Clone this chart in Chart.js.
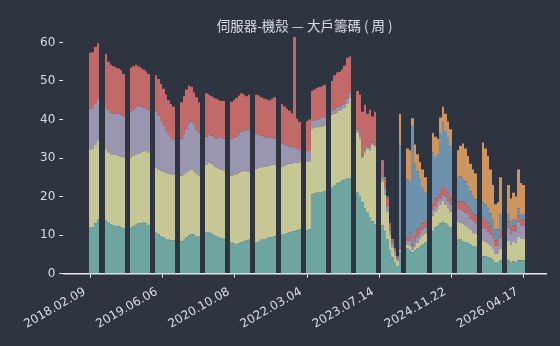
<!DOCTYPE html>
<html>
<head>
<meta charset="utf-8">
<script src="https://cdn.jsdelivr.net/npm/chart.js@4/dist/chart.umd.min.js"></script>
<style>
  html, body { margin: 0; padding: 0; background: #2e3440; }
  canvas { display: block; }
</style>
</head>
<body>
<canvas id="chart" width="560" height="346"></canvas>
<script>
// tick labels (evenly spread over the weekly index)
const tickLabels = ["2018.02.09", "2019.06.06", "2020.10.08", "2022.03.04", "2023.07.14", "2024.11.22", "2026.04.17"];

// one value per sampled week, null = weeks without data
const teal = [
  11.9, 12.0, 13.0, 14.2, null, null,
  13.8, 13.2, 12.8, 12.6, 12.4, 12.3, 12.0, 11.7, null, null,
  11.8, 12.3, 12.7, 13.0, 13.1, 13.2, 13.0, 12.6, null, null,
  10.6, 10.2, 9.8, 9.4, 9.0, 8.8, 8.7, 8.6, null, null,
  8.4, 8.8, 9.4, 9.9, 10.2, 10.2, 9.8, 9.6, null, null,
  10.6, 10.8, 10.4, 10.0, 9.8, 9.5, 9.2, 8.9, null, null,
  8.0, 7.8, 7.7, 7.9, 8.1, 8.4, 8.6, 8.8, null, null,
  8.2, 8.5, 8.8, 9.0, 9.2, 9.4, 9.5, 9.7, null, null,
  10.1, 10.3, 10.5, 10.7, 10.9, 11.0, 11.2, 11.4, null, null,
  11.3, 11.5, 20.6, 20.8, 21.0, 21.0, 21.2, 21.3, null, null,
  22.5, 23.0, 23.4, 23.8, 24.2, 24.4, 24.6, 24.8, null, null,
  21.0, 20.0, 18.5, 17.0, 16.0, 14.5, 13.6, 12.8, null, null,
  12.5, 11.0, 9.0, 6.0, 4.2, 3.0, 2.0, 5.5, null, null,
  6.5, 6.0, 5.5, 6.0, 6.5, 7.0, 7.5, 8.0, null, null,
  11.0, 12.0, 12.5, 13.0, 13.5, 13.0, 12.5, 12.0, null, null,
  9.0, 8.8, 8.5, 8.2, 8.0, 7.5, 7.2, 7.0, null, null,
  4.5, 4.5, 4.2, 4.0, 3.6, 3.0, 3.0, 3.5, null, null,
  3.5, 3.0, 3.2, 3.0, 3.5, 3.5, 3.5
];
const yellow = [
  20.4, 20.5, 20.5, 20.4, null, null,
  18.7, 18.3, 18.2, 18.2, 18.4, 18.3, 18.4, 18.5, null, null,
  18.4, 18.3, 18.3, 18.2, 18.2, 18.4, 18.8, 18.9, null, null,
  16.8, 16.8, 16.9, 17.1, 17.2, 17.2, 17.1, 17.1, null, null,
  17.0, 17.0, 16.9, 16.9, 16.8, 16.4, 16.2, 15.9, null, null,
  17.6, 18.0, 18.2, 18.0, 17.8, 17.7, 17.8, 17.9, null, null,
  17.5, 17.8, 18.1, 18.3, 18.4, 18.4, 18.0, 17.6, null, null,
  19.0, 18.9, 18.8, 18.8, 18.6, 18.6, 18.7, 18.6, null, null,
  17.7, 17.7, 17.8, 17.8, 17.7, 17.7, 17.6, 17.5, null, null,
  17.7, 17.7, 17.0, 17.0, 17.0, 17.2, 17.0, 17.1, null, null,
  18.7, 18.5, 18.4, 18.4, 18.4, 18.6, 19.4, 20.8, null, null,
  15.5, 15.0, 11.5, 14.5, 16.5, 17.5, 19.9, 20.2, null, null,
  11.5, 9.5, 7.0, 4.0, 2.6, 1.8, 1.3, 0.6, null, null,
  1.0, 1.2, 0.8, 1.0, 1.5, 2.0, 2.5, 2.5, null, null,
  4.0, 4.0, 4.5, 5.0, 5.5, 5.0, 4.5, 4.0, null, null,
  4.5, 4.5, 4.5, 4.2, 4.0, 3.8, 3.5, 3.3, null, null,
  4.0, 3.8, 3.5, 3.2, 2.8, 2.2, 2.2, 3.0, null, null,
  5.0, 4.5, 5.0, 5.0, 6.0, 5.5, 5.5
];
const purple = [
  10.5, 10.5, 10.5, 10.9, null, null,
  10.5, 10.7, 10.8, 10.7, 10.7, 11.0, 10.8, 10.8, null, null,
  11.8, 12.0, 12.2, 12.4, 12.0, 11.4, 11.0, 11.1, null, null,
  14.6, 14.0, 13.1, 12.0, 10.8, 10.0, 9.4, 9.1, null, null,
  9.6, 10.4, 11.3, 12.2, 12.4, 12.0, 11.4, 11.1, null, null,
  7.4, 7.2, 7.2, 7.2, 7.4, 8.0, 8.4, 8.2, null, null,
  9.5, 9.6, 9.8, 10.0, 10.3, 10.2, 10.6, 11.0, null, null,
  9.0, 8.6, 8.2, 7.8, 7.6, 7.3, 7.0, 6.8, null, null,
  6.0, 5.6, 5.0, 4.5, 4.2, 3.9, 3.6, 3.2, null, null,
  2.6, 2.6, 2.0, 2.0, 2.0, 2.0, 2.2, 2.2, null, null,
  1.0, 1.1, 1.2, 1.2, 1.2, 1.2, 1.4, 1.4, null, null,
  1.0, 0.8, 0.6, 0.5, 0.5, 0.6, 0.5, 0.5, null, null,
  1.0, 1.5, 1.5, 1.2, 1.0, 0.8, 0.6, 0.4, null, null,
  1.0, 1.5, 0.8, 1.2, 1.5, 1.5, 1.5, 1.5, null, null,
  1.5, 1.5, 2.0, 1.5, 1.5, 2.0, 2.0, 2.0, null, null,
  3.0, 3.2, 3.4, 3.4, 3.2, 3.0, 3.0, 2.8, null, null,
  3.5, 3.3, 3.2, 3.0, 2.6, 2.0, 2.0, 2.8, null, null,
  3.5, 3.0, 3.0, 3.0, 4.0, 3.5, 3.5
];
const red = [
  14.5, 14.5, 14.8, 14.3, null, null,
  14.0, 12.8, 12.4, 12.3, 12.0, 11.6, 11.6, 10.8, null, null,
  11.5, 11.2, 11.0, 10.2, 10.1, 10.0, 9.7, 9.2, null, null,
  9.5, 9.5, 9.4, 9.5, 9.5, 9.0, 8.8, 8.5, null, null,
  9.5, 9.8, 10.2, 9.8, 9.1, 8.4, 8.4, 7.9, null, null,
  11.2, 10.4, 10.2, 10.4, 10.4, 9.8, 9.4, 9.8, null, null,
  9.6, 9.8, 10.0, 10.0, 10.0, 9.5, 8.8, 9.0, null, null,
  10.2, 10.2, 10.0, 9.8, 9.8, 9.7, 10.2, 10.7, null, null,
  10.2, 9.8, 9.5, 9.3, 8.8, 28.8, 7.8, 7.3, null, null,
  8.0, 8.2, 7.8, 8.0, 8.2, 8.2, 8.2, 8.4, null, null,
  7.8, 8.9, 9.2, 9.0, 9.2, 9.8, 10.6, 9.4, null, null,
  9.9, 10.7, 11.4, 11.8, 8.5, 9.9, 6.8, 8.5, null, null,
  4.3, 2.5, 2.0, 1.3, 0.8, 0.6, 0.4, 0.2, null, null,
  0.8, 2.0, 0.5, 1.5, 2.0, 1.5, 1.5, 1.5, null, null,
  1.5, 2.0, 1.5, 2.0, 2.5, 2.0, 2.0, 1.5, null, null,
  2.0, 2.2, 2.4, 2.4, 2.2, 2.0, 2.0, 2.0, null, null,
  2.5, 2.4, 2.3, 2.0, 1.8, 1.5, 1.6, 2.0, null, null,
  1.5, 1.2, 1.3, 1.3, 1.5, 1.5, 1.5
];
const blue = [
  0, 0, 0, 0, null, null,
  0, 0, 0, 0, 0, 0, 0, 0, null, null,
  0, 0, 0, 0, 0, 0, 0, 0, null, null,
  0, 0, 0, 0, 0, 0, 0, 0, null, null,
  0, 0, 0, 0, 0, 0, 0, 0, null, null,
  0, 0, 0, 0, 0, 0, 0, 0, null, null,
  0, 0, 0, 0, 0, 0, 0, 0, null, null,
  0, 0, 0, 0, 0, 0, 0, 0, null, null,
  0, 0, 0, 0, 0, 0, 0, 0, null, null,
  0, 0, 0, 0, 0, 0, 0, 0, null, null,
  0, 0, 0, 0, 0, 0, 0, 0, null, null,
  0, 0, 0, 0, 0, 0, 0, 0, null, null,
  0.2, 0.3, 0.3, 0.3, 0.2, 0.2, 0.1, 26.7, null, null,
  15.2, 13.3, 30.7, 18.8, 15.0, 12.5, 9.5, 7.5, null, null,
  13.5, 11.0, 10.5, 15.0, 16.3, 15.0, 14.0, 13.5, null, null,
  6.5, 6.5, 6.0, 5.8, 5.3, 5.0, 4.5, 4.2, null, null,
  4.0, 4.0, 3.8, 3.5, 3.2, 2.8, 2.7, 4.2, null, null,
  2.0, 1.8, 1.5, 1.5, 2.0, 1.5, 1.5
];
const orange = [
  0, 0, 0, 0, null, null,
  0, 0, 0, 0, 0, 0, 0, 0, null, null,
  0, 0, 0, 0, 0, 0, 0, 0, null, null,
  0, 0, 0, 0, 0, 0, 0, 0, null, null,
  0, 0, 0, 0, 0, 0, 0, 0, null, null,
  0, 0, 0, 0, 0, 0, 0, 0, null, null,
  0, 0, 0, 0, 0, 0, 0, 0, null, null,
  0, 0, 0, 0, 0, 0, 0, 0, null, null,
  0, 0, 0, 0, 0, 0, 0, 0, null, null,
  0, 0, 0, 0, 0, 0, 0, 0, null, null,
  0, 0, 0, 0, 0, 0, 0, 0, null, null,
  0, 0, 0, 0, 0, 0, 0, 0, null, null,
  0, 0.2, 0.2, 0.2, 0.2, 0.1, 0.1, 8.1, null, null,
  8.0, 8.0, 2.0, 5.0, 4.5, 4.5, 4.5, 4.0, null, null,
  5.0, 5.0, 4.0, 4.0, 4.0, 4.5, 4.5, 4.5, null, null,
  7.0, 8.0, 9.0, 8.5, 7.8, 7.2, 6.8, 6.7, null, null,
  15.5, 14.5, 13.5, 11.3, 9.0, 6.5, 7.0, 9.5, null, null,
  7.5, 6.0, 7.0, 6.2, 10.0, 8.0, 7.5
];

const n = teal.length;
const tickPositions = tickLabels.map((_, k) => k * (n - 1) / (tickLabels.length - 1));
// zero-height tiers are left out so no slivers get drawn
const toPoints = (values) => values.map((v, i) => ({ x: i, y: v === 0 ? null : v }));

// snap bar edges to whole pixels so neighbouring bars meet without seams
const snapBars = {
  id: "snapBars",
  afterDatasetsUpdate(chart) {
    chart.data.datasets.forEach((_, d) => {
      chart.getDatasetMeta(d).data.forEach((bar) => {
        if (!Number.isFinite(bar.x) || !Number.isFinite(bar.width)) return;
        const left = Math.round(bar.x - bar.width / 2);
        const right = Math.round(bar.x + bar.width / 2);
        bar.x = (left + right) / 2;
        bar.width = right - left;
      });
    });
  },
};

const textColor = "#d8dee9";
const ctx = document.getElementById("chart");

new Chart(ctx, {
  type: "bar",
  data: {
    datasets: [
      { label: "級距一", data: toPoints(teal), backgroundColor: "#6fa5a0" },
      { label: "級距二", data: toPoints(yellow), backgroundColor: "#c6c794" },
      { label: "級距三", data: toPoints(purple), backgroundColor: "#9a96af" },
      { label: "級距四", data: toPoints(red), backgroundColor: "#c2696a" },
      { label: "級距五", data: toPoints(blue), backgroundColor: "#6c92ad" },
      { label: "級距六", data: toPoints(orange), backgroundColor: "#cf955f" },
    ],
  },
  plugins: [snapBars],
  options: {
    responsive: false,
    animation: false,
    layout: { padding: { left: 36, right: 14, top: 0, bottom: 7.5 } },
    datasets: {
      bar: { barPercentage: 1, categoryPercentage: 1, borderWidth: 0, inflateAmount: 0 },
    },
    scales: {
      x: {
        type: "linear",
        stacked: true,
        offset: false,
        min: -10.9,
        max: 181,
        afterBuildTicks: (axis) => {
          axis.ticks = tickPositions.map((v) => ({ value: v }));
        },
        ticks: {
          autoSkip: false,
          minRotation: 30,
          maxRotation: 30,
          labelOffset: -6,
          padding: 7,
          color: textColor,
          font: { family: "DejaVu Sans", size: 12 },
          callback: (value, index) => tickLabels[index],
        },
        grid: {
          offset: false,
          drawOnChartArea: false,
          drawTicks: true,
          tickLength: 4,
          color: "#e5e9f0",
          lineWidth: 1,
        },
        border: { display: true, color: "#e5e9f0", width: 1.5 },
      },
      y: {
        stacked: true,
        min: 0,
        max: 62,
        afterBuildTicks: (axis) => {
          axis.ticks = [0, 10, 20, 30, 40, 50, 60].map((v) => ({ value: v }));
        },
        ticks: {
          color: textColor,
          padding: 4,
          font: { family: "DejaVu Sans", size: 12 },
        },
        grid: {
          drawOnChartArea: false,
          drawTicks: true,
          tickLength: 4,
          color: "#e5e9f0",
        },
        border: { display: false },
      },
    },
    plugins: {
      legend: { display: false },
      tooltip: { enabled: false },
      title: {
        display: true,
        fullSize: false,
        text: "伺服器-機殼 — 大戶籌碼 ( 周 )",
        color: textColor,
        font: { family: "'Noto Sans CJK TC', 'DejaVu Sans'", size: 13.5, weight: "normal" },
        padding: { top: 17.5, bottom: 1 },
      },
    },
  },
});
</script>
</body>
</html>
